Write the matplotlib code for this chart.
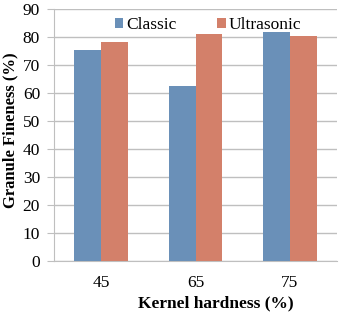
import numpy as np
import matplotlib.pyplot as plt

plt.rcParams['font.family'] = 'Liberation Serif'

categories = ['45', '65', '75']
classic = [75.4, 62.6, 81.9]
ultrasonic = [78.3, 80.9, 80.3]

fig = plt.figure(figsize=(3.41, 3.14), dpi=100)
ax = fig.add_axes([54 / 341, 53 / 314, 283 / 341, 252 / 314])

x = np.arange(len(categories))
w = 0.286
ax.bar(x - w / 2, classic, w, color='#6a90b8', label='Classic', zorder=3)
ax.bar(x + w / 2, ultrasonic, w, color='#d3806a', label='Ultrasonic', zorder=3)

ax.set_xlim(-0.5, 2.5)
ax.set_ylim(0, 90)
ax.set_yticks(range(0, 91, 10))
ax.set_xticks(x)
ax.set_xticklabels(categories)
ax.yaxis.grid(True, color='#bfbfbf', linewidth=1)
ax.set_axisbelow(True)
for s in ['top', 'right']:
    ax.spines[s].set_visible(False)
ax.spines['left'].set_color('#bfbfbf')
ax.spines['bottom'].set_color('#bfbfbf')
ax.tick_params(axis='y', length=5, color='#bfbfbf', labelsize=12.5, pad=5)
ax.tick_params(axis='x', length=0, labelsize=12.5, pad=10)

ax.set_xlabel('Kernel hardness (%)', fontsize=12.5, fontweight='bold')
ax.xaxis.set_label_coords(0.572, -0.137)
ax.set_ylabel('Granule Fineness (%)', fontsize=12, fontweight='bold')
ax.yaxis.set_label_coords(-0.127, 0.52)

ax.legend(loc='center', bbox_to_anchor=(0.543, 0.935), ncol=2, frameon=False,
          fontsize=12.5, handlelength=0.5, handleheight=0.5, handletextpad=0.15,
          columnspacing=2.35, borderpad=0.1)

plt.savefig('out.png', dpi=100)
